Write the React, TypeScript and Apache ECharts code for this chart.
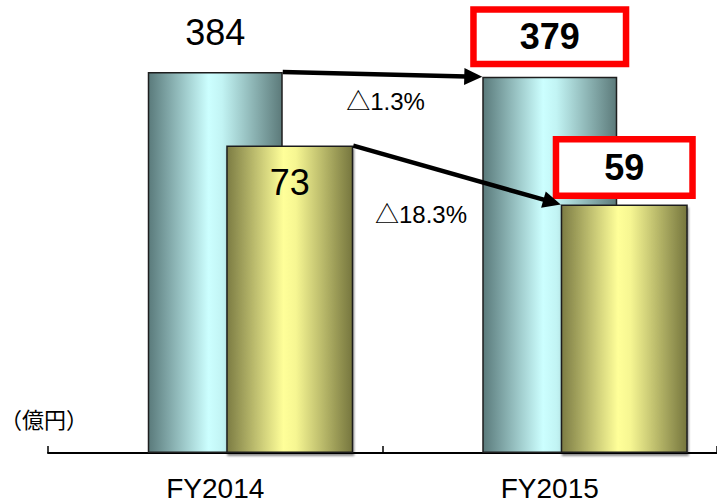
import React, { useEffect, useRef } from "react";
import * as echarts from "echarts";

const categories = ["FY2014", "FY2015"];
const salesValues = [384, 379];
const profitValues = [73, 59];
const changeLabels = ["△1.3%", "△18.3%"];
const unitLabel = "（億円）";

const FONT = "'Liberation Sans', Arial, 'Noto Sans CJK JP', sans-serif";

export default function App() {
  const ref = useRef<HTMLDivElement>(null);

  useEffect(() => {
    document.body.style.margin = "0";
    const el = ref.current!;
    const chart = echarts.init(el, null, { renderer: "svg" });

    const cyanGrad = new echarts.graphic.LinearGradient(0, 0, 1, 0, [
      { offset: 0, color: "#5a7a7b" },
      { offset: 0.45, color: "#ccffff" },
      { offset: 0.55, color: "#c2f4f4" },
      { offset: 1, color: "#5c7a7a" },
    ]);
    const yellowGrad = new echarts.graphic.LinearGradient(0, 0, 1, 0, [
      { offset: 0, color: "#7c7c44" },
      { offset: 0.45, color: "#ffff99" },
      { offset: 0.55, color: "#f6f692" },
      { offset: 1, color: "#76763e" },
    ]);

    const plainLabel = (pos: string, dist: number) => ({
      show: true,
      position: pos,
      distance: dist,
      fontSize: 36,
      lineHeight: 40,
      color: "#000",
      fontFamily: FONT,
      textBorderWidth: 0,
    });
    const boxedLabel = (padV: number, padH: number, dist: number) => ({
      show: true,
      position: "top",
      distance: dist,
      fontSize: 36,
      lineHeight: 40,
      fontWeight: "bold",
      color: "#000",
      fontFamily: FONT,
      backgroundColor: "#ffffff",
      borderColor: "#ff0000",
      borderWidth: 6.5,
      padding: [padV, padH],
      textBorderWidth: 0,
    });

    const salesData = salesValues.map((v, i) => ({
      value: v,
      label: i === 0 ? plainLabel("top", 19) : boxedLabel(4, 43, 16),
    }));
    const profitData = profitValues.map((v, i) => ({
      value: v,
      label: i === 0 ? plainLabel("insideTop", 17) : boxedLabel(5, 45, 12),
    }));

    chart.setOption({
      animation: false,
      grid: { left: 48, right: -3, top: 56, bottom: 47 },
      xAxis: [
        {
          type: "category",
          data: categories,
          gridIndex: 0,
          axisLine: { show: true, lineStyle: { color: "#000", width: 2 } },
          axisTick: { show: true, inside: true, length: 7, lineStyle: { color: "#000", width: 1.5 } },
          axisLabel: { fontSize: 28, lineHeight: 30, color: "#000", margin: 20, fontFamily: FONT },
        },
        {
          type: "category",
          data: categories,
          gridIndex: 0,
          show: false,
        },
      ],
      yAxis: [
        { type: "value", min: 0, max: 400, show: false },
        { type: "value", min: 0, max: 400 / 4.243, show: false },
      ],
      series: [
        {
          type: "bar",
          name: "売上",
          xAxisIndex: 0,
          yAxisIndex: 0,
          barWidth: 135,
          data: salesData,
          itemStyle: { color: cyanGrad, borderColor: "#1e1e1e", borderWidth: 1.5 },
        },
        {
          type: "bar",
          name: "spacer",
          xAxisIndex: 1,
          yAxisIndex: 1,
          barWidth: 149,
          silent: true,
          data: ["-", "-"],
          itemStyle: { color: "transparent" },
        },
        {
          type: "bar",
          name: "利益",
          xAxisIndex: 1,
          yAxisIndex: 1,
          barWidth: 127,
          barGap: "0%",
          data: profitData,
          itemStyle: {
            color: yellowGrad,
            borderColor: "#1e1e1e",
            borderWidth: 1.5,
            shadowColor: "rgba(0,0,0,0.45)",
            shadowBlur: 2,
            shadowOffsetX: 1,
            shadowOffsetY: 3,
          },
        },
      ],
    });

    const rectOf = (seriesIndex: number, i: number) => {
      const model = (chart as any).getModel();
      const lay = model.getSeriesByIndex(seriesIndex).getData().getItemLayout(i);
      return {
        left: Math.min(lay.x, lay.x + lay.width),
        right: Math.max(lay.x, lay.x + lay.width),
        top: Math.min(lay.y, lay.y + lay.height),
      };
    };

    const arrow = (x1: number, y1: number, x2: number, y2: number) => {
      const dx = x2 - x1;
      const dy = y2 - y1;
      const len = Math.sqrt(dx * dx + dy * dy);
      const ux = dx / len;
      const uy = dy / len;
      const headLen = 18;
      const half = 8.5;
      const bx = x2 - ux * headLen;
      const by = y2 - uy * headLen;
      return [
        {
          type: "line",
          shape: { x1, y1, x2: bx + ux * 2, y2: by + uy * 2 },
          style: { stroke: "#000", lineWidth: 4.5 },
          z: 100,
        },
        {
          type: "polygon",
          shape: {
            points: [
              [x2, y2],
              [bx - uy * half, by + ux * half],
              [bx + uy * half, by - ux * half],
            ],
          },
          style: { fill: "#000" },
          z: 100,
        },
      ];
    };

    const s0 = rectOf(0, 0);
    const s1 = rectOf(0, 1);
    const p0 = rectOf(2, 0);
    const p1 = rectOf(2, 1);

    const m1x = (s0.right + s1.left) / 2;
    const m1y = (s0.top + s1.top) / 2;
    const m2x = (p0.right + p1.left) / 2;
    const m2y = (p0.top + p1.top) / 2;

    chart.setOption({
      graphic: [
        ...arrow(s0.right, s0.top, s1.left, s1.top),
        ...arrow(p0.right, p0.top, p1.left, p1.top),
        {
          type: "text",
          x: m1x + 3,
          y: m1y + 27,
          style: {
            text: changeLabels[0],
            fontSize: 24,
            fontFamily: FONT,
            fill: "#000",
            align: "center",
            verticalAlign: "middle",
          },
          z: 100,
        },
        {
          type: "text",
          x: m2x - 36,
          y: m2y + 39,
          style: {
            text: changeLabels[1],
            fontSize: 24,
            fontFamily: FONT,
            fill: "#000",
            align: "center",
            verticalAlign: "middle",
          },
          z: 100,
        },
        {
          type: "text",
          x: 0,
          y: 418,
          style: {
            text: unitLabel,
            fontSize: 22,
            fontFamily: "'Noto Sans CJK JP', sans-serif",
            fill: "#000",
            verticalAlign: "middle",
          },
        },
      ],
    });

    return () => {
      chart.dispose();
    };
  }, []);

  return <div ref={ref} style={{ width: 717, height: 503 }} />;
}
